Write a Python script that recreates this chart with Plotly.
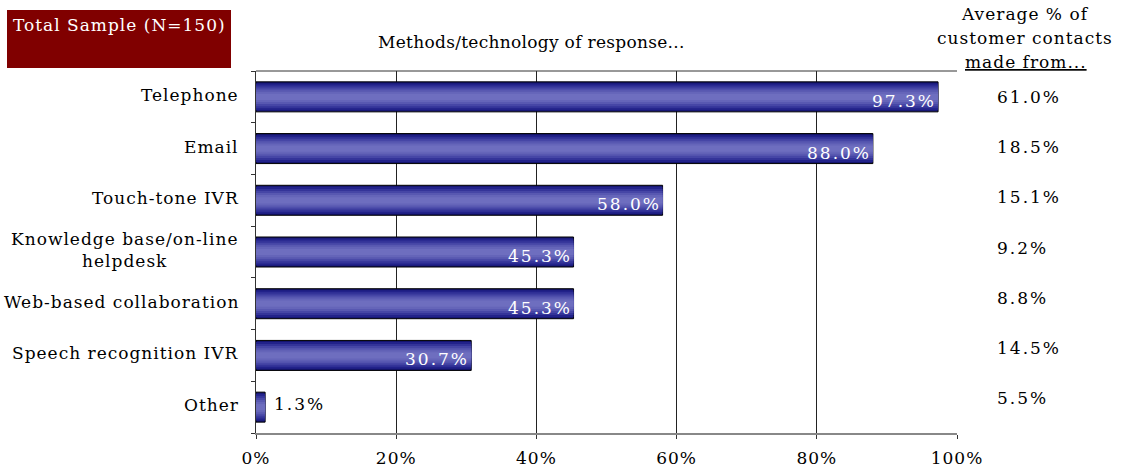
import plotly.graph_objects as go

categories = ["Telephone", "Email", "Touch-tone IVR", "Knowledge base/on-line<br>helpdesk",
              "Web-based collaboration", "Speech recognition IVR", "Other"]
methods_pct = [97.3, 88.0, 58.0, 45.3, 45.3, 30.7, 1.3]
contacts_pct = [61.0, 18.5, 15.1, 9.2, 8.8, 14.5, 5.5]
x_ticks = [0, 20, 40, 60, 80, 100]
x_ticktext = ["0%", "20%", "40%", "60%", "80%", "100%"]

FONT = "DejaVu Serif"
FS = 17
ids = list(range(len(categories)))


def ls(text, px=1.0):
    return "<br>".join(f'<span style="letter-spacing:{px}px">{t}</span>' for t in text.split("<br>"))


L, R, T, B = 256, 164, 71, 38
PW, PH = 1121 - L - R, 471 - T - B


def px_x(x):
    return (x - L) / PW


def px_y(y):
    return 1 - (y - T) / PH


fig = go.Figure()

layers = [(0.58, "#14146e"), (0.52, "#22228a"), (0.44, "#343499"),
          (0.36, "#4646a6"), (0.28, "#5858b1"), (0.20, "#6565b9"), (0.12, "#6e6ebf")]
for i, (w, c) in enumerate(layers):
    fig.add_trace(go.Bar(
        y=ids, x=methods_pct, orientation="h", width=w,
        marker=dict(color=c, line=dict(color="black", width=1 if i == 0 else 0)),
        hoverinfo="skip", showlegend=False))

fig.update_layout(
    barmode="overlay",
    width=1121, height=471,
    margin=dict(l=L, r=R, t=T, b=B),
    paper_bgcolor="white", plot_bgcolor="white",
    font=dict(family=FONT, size=FS, color="black"),
    xaxis=dict(range=[0, 100], tickvals=x_ticks, ticktext=[ls(t, 1) for t in x_ticktext],
               showgrid=True, gridcolor="#222", gridwidth=1,
               showline=True, linecolor="#888", linewidth=2, mirror=False,
               ticks="outside", ticklen=4, tickcolor="#333", ticklabelstandoff=5,
               tickfont=dict(size=FS), zeroline=False, automargin=False),
    yaxis=dict(range=[len(categories) - 0.5, -0.5], tickvals=[i - 0.5 for i in ids] + [len(ids) - 0.5],
               showticklabels=False, ticks="outside", ticklen=4, tickcolor="#333",
               showgrid=False, showline=True, linecolor="#333", linewidth=1, zeroline=False,
               automargin=False),
    showlegend=False,
)

fig.add_shape(type="line", xref="paper", yref="paper", x0=0, x1=1, y0=1, y1=1,
              line=dict(color="#333", width=1))

# value labels on bars
for i, v in enumerate(methods_pct):
    if v > 5:
        fig.add_annotation(x=v, xref="x", y=i, yref="y", text=ls(f"{v:.1f}%", 2),
                           showarrow=False, xanchor="right", yanchor="middle",
                           xshift=0, yshift=-4, font=dict(size=FS, color="white"))
    else:
        fig.add_annotation(x=v, xref="x", y=i, yref="y", text=ls(f"{v:.1f}%", 2),
                           showarrow=False, xanchor="left", yanchor="middle",
                           xshift=7, yshift=3, font=dict(size=FS, color="black"))

# category labels
for i, c in enumerate(categories):
    fig.add_annotation(x=px_x(241), xref="paper", y=i, yref="y", text=ls(c, 1), showarrow=False,
                       xanchor="right", align="center", font=dict(size=FS),
                       yshift=2)

# right column values
for i, v in enumerate(contacts_pct):
    fig.add_annotation(x=px_x(995), xref="paper", y=px_y(97 + 50.2 * i), yref="paper",
                       text=ls(f"{v:.1f}%", 2), showarrow=False, xanchor="left",
                       yanchor="middle", font=dict(size=FS))

# header right
for j, line in enumerate(["Average % of", "customer contacts"]):
    fig.add_annotation(x=px_x(1025), xref="paper", y=px_y(14 + 24.5 * j), yref="paper",
                       text=ls(line, 1), showarrow=False, xanchor="center", yanchor="middle",
                       font=dict(size=FS))
fig.add_annotation(x=px_x(1026), xref="paper", y=px_y(62), yref="paper",
                   text=ls("made from...", 1), showarrow=False, xanchor="center", yanchor="middle",
                   font=dict(size=FS, lineposition="under"))

# title box
fig.add_shape(type="rect", xref="paper", yref="paper",
              x0=px_x(7), x1=px_x(231), y0=px_y(68), y1=px_y(10),
              fillcolor="#800000", line=dict(width=0))
fig.add_annotation(x=px_x(119), xref="paper", y=px_y(25), yref="paper",
                   text=ls("Total Sample (N=150)", 1), showarrow=False,
                   font=dict(size=FS, color="white"), xanchor="center", yanchor="middle")

fig.add_annotation(x=px_x(531), xref="paper", y=px_y(42), yref="paper",
                   text=ls("Methods/technology of response...", 0.3), showarrow=False,
                   font=dict(size=FS), xanchor="center", yanchor="middle")

fig.write_html("out.html")
